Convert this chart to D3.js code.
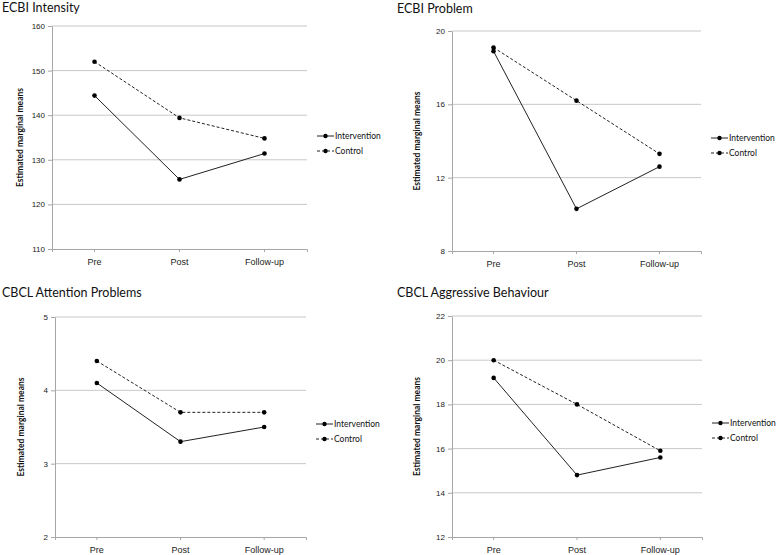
<!DOCTYPE html>
<html>
<head>
<meta charset="utf-8">
<script src="https://cdn.jsdelivr.net/npm/d3@7"></script>
<style>
  body { margin: 0; background: #fff; }
  svg { font-family: Lato, "Open Sans", sans-serif; }
  .grid line { stroke: #c8c8c8; stroke-width: 1; }
  .title { font-size: 12.5px; fill: #111; }
  .ytitle { font-size: 8.5px; font-weight: bold; fill: #111; }
  .tick-y { font-size: 8px; fill: #222; }
  .tick-x { font-size: 9px; fill: #222; }
  .legend text { font-size: 8.5px; fill: #111; }
</style>
</head>
<body>
<div id="chart"></div>
<script>
const categories = ['Pre', 'Post', 'Follow-up'];
const seriesNames = ['Intervention', 'Control'];

const titles = ['ECBI Intensity', 'ECBI Problem', 'CBCL Attention Problems', 'CBCL Aggressive Behaviour'];

const ecbiIntensityIntervention = [144.4, 125.6, 131.4];
const ecbiIntensityControl = [152.0, 139.4, 134.8];
const ecbiProblemIntervention = [18.9, 10.3, 12.6];
const ecbiProblemControl = [19.1, 16.2, 13.3];
const attentionIntervention = [4.1, 3.3, 3.5];
const attentionControl = [4.4, 3.7, 3.7];
const aggressiveIntervention = [19.2, 14.8, 15.6];
const aggressiveControl = [20.0, 18.0, 15.9];

const ecbiIntensityTicks = [110, 120, 130, 140, 150, 160];
const ecbiProblemTicks = [8, 12, 16, 20];
const attentionTicks = [2, 3, 4, 5];
const aggressiveTicks = [12, 14, 16, 18, 20, 22];

const width = 778, height = 555;
const svg = d3.select('#chart').append('svg')
  .attr('width', width).attr('height', height)
  .attr('viewBox', `0 0 ${width} ${height}`);

// panel frames: plot area box + title position + legend position
const panels = [
  { title: titles[0], inter: ecbiIntensityIntervention, ctrl: ecbiIntensityControl, ticks: ecbiIntensityTicks,
    x0: 52, x1: 307, y0: 26, y1: 249, tx: 2, ty: 12, yt: 20, lx: 317, ly: 136 },
  { title: titles[1], inter: ecbiProblemIntervention, ctrl: ecbiProblemControl, ticks: ecbiProblemTicks,
    x0: 452, x1: 701, y0: 31, y1: 251, tx: 397, ty: 13, yt: 417, lx: 711, ly: 138 },
  { title: titles[2], inter: attentionIntervention, ctrl: attentionControl, ticks: attentionTicks,
    x0: 55, x1: 306, y0: 317, y1: 537, tx: 2, ty: 297, yt: 21, lx: 316, ly: 424 },
  { title: titles[3], inter: aggressiveIntervention, ctrl: aggressiveControl, ticks: aggressiveTicks,
    x0: 452, x1: 702, y0: 316, y1: 537, tx: 397, ty: 297, yt: 417, lx: 712, ly: 423 }
];

panels.forEach(p => {
  const g = svg.append('g');
  const x = d3.scaleBand().domain(categories).range([p.x0, p.x1]);
  const y = d3.scaleLinear().domain(d3.extent(p.ticks)).range([p.y1, p.y0]);

  g.append('text').attr('class', 'title').attr('x', p.tx).attr('y', p.ty).text(p.title);

  // gridlines
  g.append('g').attr('class', 'grid')
    .selectAll('line').data(p.ticks.slice(1)).join('line')
    .attr('x1', p.x0).attr('x2', p.x1)
    .attr('y1', d => y(d)).attr('y2', d => y(d));

  // y axis
  const ya = g.append('g').attr('transform', `translate(${p.x0},0)`)
    .call(d3.axisLeft(y).tickValues(p.ticks).tickFormat(d3.format('d'))
      .tickSize(4).tickSizeOuter(0).tickPadding(3));
  ya.select('.domain').attr('stroke', '#a6a6a6');
  ya.selectAll('.tick line').attr('stroke', '#a6a6a6');
  ya.selectAll('.tick text').attr('class', 'tick-y').attr('font-family', null).attr('font-size', null);

  // x axis
  const xa = g.append('g').attr('transform', `translate(0,${p.y1})`)
    .call(d3.axisBottom(x).tickSize(3).tickSizeOuter(3).tickPadding(7));
  xa.select('.domain').attr('stroke', '#a6a6a6');
  xa.selectAll('.tick line').attr('stroke', '#a6a6a6');
  xa.selectAll('.tick text').attr('class', 'tick-x').attr('font-family', null).attr('font-size', null);

  g.append('text').attr('class', 'ytitle')
    .attr('transform', `translate(${p.yt},${(p.y0 + p.y1) / 2}) rotate(-90)`)
    .attr('text-anchor', 'middle').attr('dy', '0.35em')
    .text('Estimated marginal means');

  const line = d3.line().x((d, i) => x(categories[i]) + x.bandwidth() / 2).y(d => y(d));
  const series = [
    { name: seriesNames[0], values: p.inter, dash: null },
    { name: seriesNames[1], values: p.ctrl, dash: '3,2' }
  ];

  series.forEach(s => {
    g.append('path').datum(s.values)
      .attr('fill', 'none').attr('stroke', '#222').attr('stroke-width', 1)
      .attr('stroke-dasharray', s.dash).attr('d', line);
    g.selectAll(null).data(s.values).join('circle')
      .attr('cx', (d, i) => x(categories[i]) + x.bandwidth() / 2)
      .attr('cy', d => y(d)).attr('r', 2.3).attr('fill', '#000');
  });

  const leg = g.append('g').attr('class', 'legend');
  series.forEach((s, i) => {
    const ly = p.ly + i * 15;
    leg.append('line').attr('x1', p.lx).attr('x2', p.lx + 17).attr('y1', ly).attr('y2', ly)
      .attr('stroke', '#222').attr('stroke-width', 1).attr('stroke-dasharray', s.dash);
    leg.append('circle').attr('cx', p.lx + 8.5).attr('cy', ly).attr('r', 2.2).attr('fill', '#000');
    leg.append('text').attr('x', p.lx + 18).attr('y', ly).attr('dy', '0.35em').text(s.name);
  });
});
</script>
</body>
</html>
